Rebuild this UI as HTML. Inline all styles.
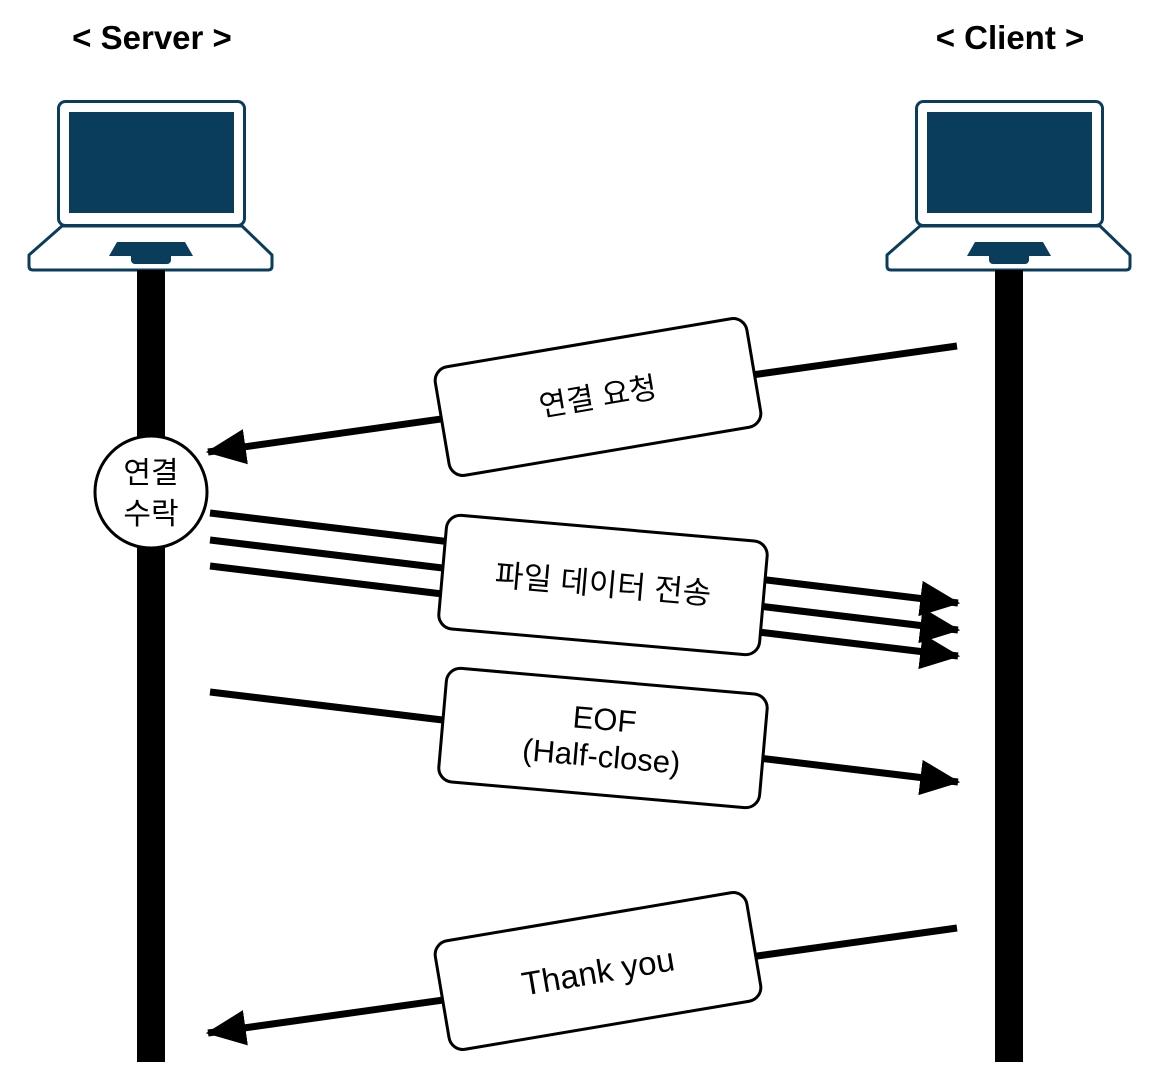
<!DOCTYPE html>
<html><head><meta charset="utf-8"><style>
html,body{margin:0;padding:0;background:#fff;}
svg{display:block;}
text{font-family:"Liberation Sans","Noto Sans CJK KR",sans-serif;}
</style></head><body>
<svg width="1174" height="1072" viewBox="0 0 1174 1072" xmlns="http://www.w3.org/2000/svg">
<defs>
<marker id="ah" markerUnits="userSpaceOnUse" markerWidth="40" markerHeight="40" viewBox="0 0 36 32" refX="34" refY="16" orient="auto">
<path d="M0,0 L36,16 L0,32 Z" fill="#000"/>
</marker>
<g id="laptop">
<rect x="58.5" y="101.5" width="186" height="124" rx="7" fill="#fff" stroke="#0a3c5c" stroke-width="3"/>
<rect x="69" y="112" width="165" height="101" fill="#0a3c5c"/>
<path d="M62,226 L242,226 L272,255 L272,266 Q272,270 268,270 L33,270 Q29,270 29,266 L29,255 Z" fill="#fff" stroke="#0a3c5c" stroke-width="3" stroke-linejoin="round"/>
<path d="M117,242 L185,242 L193,256 L109,256 Z" fill="#0a3c5c"/>
<rect x="131" y="252" width="40" height="12" rx="4" fill="#0a3c5c"/>
</g>
</defs>
<text x="152" y="49" text-anchor="middle" font-size="33" font-weight="bold">&lt; Server &gt;</text>
<text x="1010" y="49" text-anchor="middle" font-size="33" font-weight="bold">&lt; Client &gt;</text>
<use href="#laptop"/>
<use href="#laptop" transform="translate(858,0)"/>
<rect x="137" y="270" width="28" height="792" fill="#000"/>
<rect x="995" y="270" width="28" height="792" fill="#000"/>

<g stroke="#000" stroke-width="7" fill="none">
<line x1="957" y1="346" x2="208" y2="452" marker-end="url(#ah)"/>
<line x1="210" y1="513" x2="958" y2="603" marker-end="url(#ah)"/>
<line x1="210" y1="540" x2="958" y2="630" marker-end="url(#ah)"/>
<line x1="210" y1="566" x2="958" y2="656" marker-end="url(#ah)"/>
<line x1="210" y1="692" x2="958" y2="782" marker-end="url(#ah)"/>
<line x1="957" y1="928" x2="208" y2="1033" marker-end="url(#ah)"/>
</g>

<circle cx="151" cy="492" r="56" fill="#fff" stroke="#000" stroke-width="3"/>
<text x="151" y="483" text-anchor="middle" font-size="30">연결</text>
<text x="151" y="524" text-anchor="middle" font-size="30">수락</text>

<g transform="translate(598,397) rotate(-9.6)">
<rect x="-158" y="-55" width="316" height="110" rx="14" fill="#fff" stroke="#000" stroke-width="3"/>
<text x="0" y="10" text-anchor="middle" font-size="30">연결 요청</text>
</g>
<g transform="translate(603,585) rotate(5)">
<rect x="-161" y="-57" width="322" height="114" rx="14" fill="#fff" stroke="#000" stroke-width="3"/>
<text x="0" y="10" text-anchor="middle" font-size="31">파일 데이터 전송</text>
</g>
<g transform="translate(603,738) rotate(5)">
<rect x="-161" y="-57" width="322" height="114" rx="14" fill="#fff" stroke="#000" stroke-width="3"/>
<text x="0" y="-8" text-anchor="middle" font-size="31">EOF</text>
<text x="0" y="29" text-anchor="middle" font-size="31">(Half-close)</text>
</g>
<g transform="translate(598,971) rotate(-9.6)">
<rect x="-158" y="-55" width="316" height="110" rx="14" fill="#fff" stroke="#000" stroke-width="3"/>
<text x="0" y="12" text-anchor="middle" font-size="33">Thank you</text>
</g>
</svg>
</body></html>
